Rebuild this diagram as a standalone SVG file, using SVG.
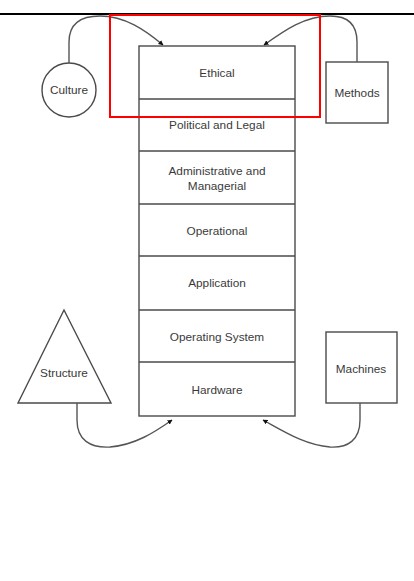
<svg xmlns="http://www.w3.org/2000/svg" width="414" height="581" viewBox="0 0 414 581">
  <style>
    .shape { fill: #fff; stroke: #4a4a4a; stroke-width: 1.4; }
    .div { stroke: #4a4a4a; stroke-width: 1.4; }
    .lbl { font-family: "Liberation Sans", Arial, sans-serif; font-size: 11.8px; fill: #3a3a3a; text-anchor: middle; }
    .link { fill: none; stroke: #555; stroke-width: 1.4; marker-end: url(#arr); }
  </style>
  <defs>
    <marker id="arr" viewBox="0 0 10 10" refX="9" refY="5" markerWidth="5" markerHeight="5" orient="auto" markerUnits="userSpaceOnUse">
      <path d="M0,0 L10,5 L0,10 Z" fill="#111"/>
    </marker>
  </defs>
  <rect width="414" height="581" fill="#fff"/>

  <!-- header rule -->
  <line x1="0" y1="14" x2="414" y2="14" stroke="#000" stroke-width="2"/>

  <!-- layered stack -->
  <g id="stack">
    <rect class="shape" x="139" y="46" width="156" height="370"/>
    <line class="div" x1="139" y1="99" x2="295" y2="99"/>
    <line class="div" x1="139" y1="151" x2="295" y2="151"/>
    <line class="div" x1="139" y1="204" x2="295" y2="204"/>
    <line class="div" x1="139" y1="256" x2="295" y2="256"/>
    <line class="div" x1="139" y1="310" x2="295" y2="310"/>
    <line class="div" x1="139" y1="362" x2="295" y2="362"/>
  </g>
  <g id="ethical"><text class="lbl" x="217" y="77">Ethical</text></g>
  <g id="political"><text class="lbl" x="217" y="129">Political and Legal</text></g>
  <g id="administrative">
    <text class="lbl" x="217" y="175">Administrative and</text>
    <text class="lbl" x="217" y="190">Managerial</text>
  </g>
  <g id="operational"><text class="lbl" x="217" y="235">Operational</text></g>
  <g id="application"><text class="lbl" x="217" y="287">Application</text></g>
  <g id="os"><text class="lbl" x="217" y="341">Operating System</text></g>
  <g id="hardware"><text class="lbl" x="217" y="394">Hardware</text></g>

  <!-- surrounding influences -->
  <g id="culture">
    <circle class="shape" cx="69" cy="90" r="27"/>
    <text class="lbl" x="69" y="94">Culture</text>
  </g>
  <g id="methods">
    <rect class="shape" x="326" y="62" width="62" height="61"/>
    <text class="lbl" x="357" y="97">Methods</text>
  </g>
  <g id="structure">
    <path class="shape" d="M64,310 L111,403 L18,403 Z"/>
    <text class="lbl" x="64" y="377">Structure</text>
  </g>
  <g id="machines">
    <rect class="shape" x="326" y="332" width="71" height="71"/>
    <text class="lbl" x="361" y="373">Machines</text>
  </g>

  <!-- connectors -->
  <g id="connectors">
    <path class="link" d="M69,63 L69,42 C69,24 80,16 100,16 C125,16 145,30 163,45"/>
    <path class="link" d="M357,62 L357,42 C357,24 348,16 330,16 C305,16 285,30 264,45"/>
    <path class="link" d="M77,403 L77,420 C77,440 90,448 110,447 C135,445 155,432 172,420"/>
    <path class="link" d="M360,403 L360,420 C360,440 348,448 330,447 C305,445 285,432 263,420"/>
  </g>

  <!-- highlight frame -->
  <rect x="110" y="15" width="210" height="102" fill="none" stroke="#f00" stroke-width="2"/>
</svg>
